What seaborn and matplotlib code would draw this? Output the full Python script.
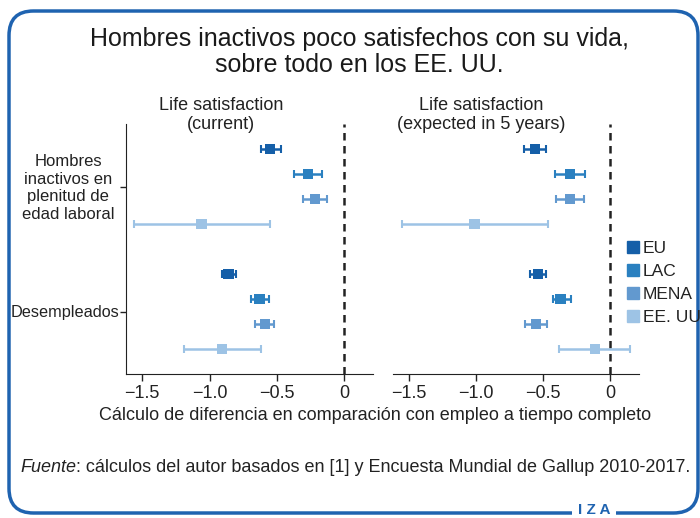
import matplotlib
matplotlib.use("Agg")
import matplotlib.pyplot as plt
from matplotlib.patches import FancyBboxPatch
from matplotlib.lines import Line2D
import pandas as pd
import seaborn as sns

regions = ["EU", "LAC", "MENA", "EE. UU"]
groups = ["Hombres\ninactivos en\nplenitud de\nedad laboral", "Desempleados"]
colors = ["#155fa8", "#2a80c0", "#6299cf", "#9dc3e5"]

# current life satisfaction: point, low, high (inactive men first, then unemployed)
cur_est = [-0.55, -0.27, -0.22, -1.06, -0.86, -0.63, -0.59, -0.905]
cur_lo = [-0.62, -0.37, -0.31, -1.56, -0.91, -0.69, -0.66, -1.19]
cur_hi = [-0.47, -0.165, -0.13, -0.55, -0.805, -0.56, -0.52, -0.615]

# expected in 5 years
fut_est = [-0.56, -0.30, -0.30, -1.01, -0.54, -0.37, -0.555, -0.115]
fut_lo = [-0.64, -0.41, -0.405, -1.55, -0.60, -0.43, -0.635, -0.38]
fut_hi = [-0.48, -0.19, -0.195, -0.465, -0.48, -0.295, -0.475, 0.145]

panel_titles = ["Life satisfaction\n(current)", "Life satisfaction\n(expected in 5 years)"]
xticks = [-1.5, -1.0, -0.5, 0]
xticklabels = ["\u22121.5", "\u22121.0", "\u22120.5", "0"]

sns.set_style("ticks")
plt.rcParams["font.family"] = ["Liberation Sans", "DejaVu Sans"]
txt = "#222222"

rows = []
for g in range(2):
    for r in range(4):
        i = g * 4 + r
        rows.append({"region": regions[r], "pos": g * 5 + r,
                     "cur": cur_est[i], "cur_lo": cur_lo[i], "cur_hi": cur_hi[i],
                     "fut": fut_est[i], "fut_lo": fut_lo[i], "fut_hi": fut_hi[i]})
df = pd.DataFrame(rows)
pal = dict(zip(regions, colors))

fig = plt.figure(figsize=(7, 5.18), dpi=100)
W, H = 700, 518
ax1 = fig.add_axes([126 / W, 1 - 374 / H, 246.6 / W, 250 / H])
ax2 = fig.add_axes([392.6 / W, 1 - 374 / H, 246 / W, 250 / H])

for ax, key, ttl, tx in [(ax1, "cur", panel_titles[0], 221), (ax2, "fut", panel_titles[1], 481)]:
    for _, row in df.iterrows():
        c = pal[row["region"]]
        ax.errorbar([row[key]], [row["pos"]],
                    xerr=[[row[key] - row[key + "_lo"]], [row[key + "_hi"] - row[key]]],
                    fmt="none", ecolor=c, elinewidth=1.8, capsize=3, capthick=1.5, zorder=2)
    sns.scatterplot(data=df, x=key, y="pos", hue="region", palette=pal, marker="s",
                    s=55, edgecolor="none", legend=False, ax=ax, zorder=3)
    ax.axvline(0, color="#222222", ls=(0, (3, 2.2)), lw=1.8, zorder=1)
    ax.set_xlim(-1.62, 0.21)
    ax.set_ylim(9, -1)
    ax.set_xticks(xticks)
    ax.set_xticklabels(xticklabels, fontsize=13, color=txt)
    ax.set_xlabel("")
    ax.set_ylabel("")
    ax.tick_params(axis="x", length=5, width=1, color="#222222", pad=3)
    for s in ["top", "right"]:
        ax.spines[s].set_visible(False)
    ax.spines["bottom"].set_color("#222222")
    ax.spines["left"].set_color("#222222")
    fig.text(tx / W, 1 - 115 / H, ttl, ha="center", va="center", fontsize=13,
             color=txt, linespacing=1.15)

# y ticks: first label is multi-line and centred, drawn as text beside its tick
ax1.set_yticks([1.5, 6.5])
ax1.set_yticklabels(["", groups[1]], fontsize=11.7, color=txt)
ax1.tick_params(axis="y", length=4, width=1, color="#222222", pad=1)
fig.text(68 / W, 1 - 188 / H, groups[0], ha="center", va="center", fontsize=12,
         color=txt, linespacing=1.2, multialignment="center")
ax2.spines["left"].set_visible(False)
ax2.set_yticks([])

fig.text(359 / W, 1 - 52 / H, "Hombres inactivos poco satisfechos con su vida,\nsobre todo en los EE. UU.",
         ha="center", va="center", fontsize=18, color="#1a1a1a", linespacing=1.1)
fig.text(375 / W, 1 - 416 / H, "Cálculo de diferencia en comparación con empleo a tiempo completo",
         ha="center", va="center", fontsize=13, color=txt)
src = fig.text(20 / W, 1 - 467 / H, "Fuente", style="italic", ha="left", va="center",
               fontsize=13, color=txt)
fig.add_artist(plt.Annotation(": cálculos del autor basados en [1] y Encuesta Mundial de Gallup 2010-2017.",
                              xy=(1, 0.5), xycoords=src, ha="left", va="center",
                              fontsize=13, color=txt))

handles = [Line2D([], [], marker="s", ls="none", color=c, markersize=8.5) for c in colors]
fig.legend(handles, regions, loc="upper left", bbox_to_anchor=(617 / W, 1 - 234 / H),
           frameon=False, fontsize=12.5, handletextpad=0.1, labelspacing=0.45,
           handlelength=1.0, borderaxespad=0, labelcolor=txt)

border = FancyBboxPatch((9 / W, 1 - 513 / H), 689 / W, 502 / H,
                        boxstyle="round,pad=0,rounding_size=0.035",
                        mutation_aspect=W / H, transform=fig.transFigure,
                        fill=False, ec="#1f63b0", lw=2.5, zorder=0)
fig.patches.append(border)
fig.text(594 / W, 1 - 510 / H, "I Z A", ha="center", va="center", fontsize=11,
         color="#1f63b0", weight="bold",
         bbox=dict(fc="white", ec="none", pad=4))

fig.savefig("out.png", dpi=100)
